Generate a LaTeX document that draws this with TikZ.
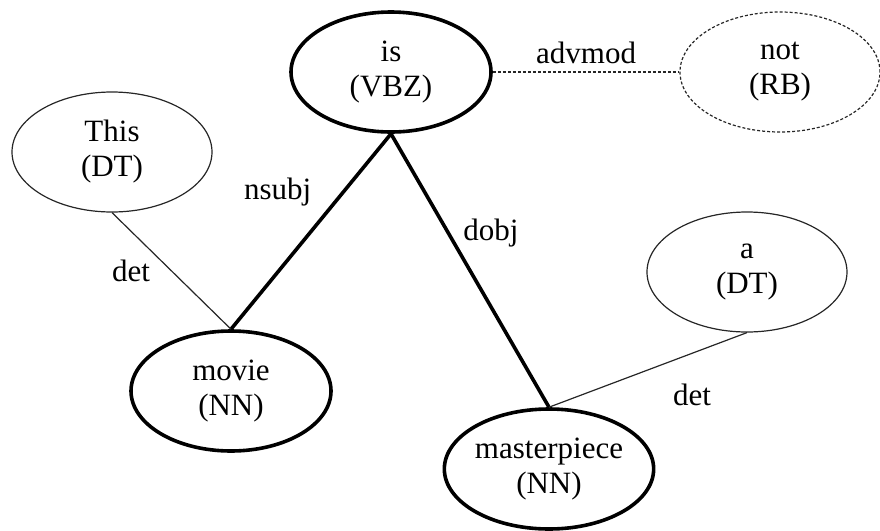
\documentclass[tikz,border=0pt]{standalone}
\usepackage{fontspec}
\setmainfont{Liberation Serif}
\usetikzlibrary{shapes.geometric}

\begin{document}
\begin{tikzpicture}[x=0.5pt,y=-0.5pt,
    font=\fontsize{15.5}{17.5}\selectfont,
    word/.style={ellipse,draw=black!85,line width=0.6pt,minimum width=100pt,minimum height=60pt,inner sep=0pt,align=center},
    head/.style={word,draw=black,line width=1.8pt},
    loose/.style={word,dash pattern=on 1.5pt off 1pt},
    strong/.style={line width=1.8pt},
    weak/.style={draw=black!85,line width=0.6pt},
    lbl/.style={inner sep=0pt}]
    \useasboundingbox (0,0) rectangle (880,531);
    \node[head]  (is)     at (391,72)  {is\\(VBZ)};
    \node[loose] (not)    at (780,72)  {not\\(RB)};
    \node[word]  (this)   at (112,152) {This\\(DT)};
    \node[head]  (movie)  at (231,391) {movie\\(NN)};
    \node[word]  (a)      at (747,272) {a\\(DT)};
    \node[head]  (master) at (549,469) {masterpiece\\(NN)};
    \path
      (is.east)     edge [weak,dash pattern=on 1.5pt off 1pt] node [lbl,above=4pt] {advmod} (not.west)
      (is.south)    edge [strong] node [lbl,pos=0.3,left=15pt] {nsubj} (movie.north)
      (is.south)    edge [strong] node [lbl,pos=0.364,right=6.5pt] {dobj} (master.north)
      (this.south)  edge [weak] node [lbl,pos=0.5,left=10.5pt] {det} (movie.north)
      (a.south)     edge [weak] node [lbl,pos=0.278,below=15pt] {det} (master.north);
  \end{tikzpicture}
\end{document}
